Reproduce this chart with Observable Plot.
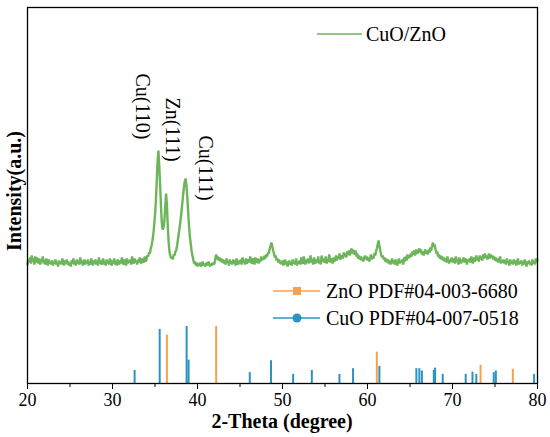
<!DOCTYPE html>
<html>
<head>
<meta charset="utf-8">
<script src="https://cdn.jsdelivr.net/npm/d3@7"></script>
<script src="https://cdn.jsdelivr.net/npm/@observablehq/plot@0.6"></script>
<style>
  html, body { margin: 0; padding: 0; background: #fff; }
  #chart { width: 550px; height: 437px; }
</style>
</head>
<body>
<div id="chart"></div>
<script>
// ---- Measured XRD pattern of CuO/ZnO (intensity above baseline, a.u.), sampled every 0.1 degree from 20 to 80
const patternStart = 20;
const patternStep = 0.1;
const patternRows = [
  "3 8 5 10 4 12 6 9 3 11",      // 20
  "5 10 7 4 9 3 8 6 11 4",       // 21
  "7 3 9 5 2 8 4 6 3 7",         // 22
  "2 6 4 8 3 5 1 7 4 6",         // 23
  "3 9 5 2 7 4 8 3 6 2",         // 24
  "5 1 7 4 9 3 6 2 8 4",         // 25
  "6 3 10 4 7 2 5 8 3 6",        // 26
  "4 8 2 6 3 9 5 2 7 4",         // 27
  "8 3 6 2 10 4 7 3 5 9",        // 28
  "3 6 2 8 4 7 3 9 5 2",         // 29
  "7 4 9 3 6 2 8 5 3 7",         // 30
  "4 10 5 3 8 6 2 9 4 7",        // 31
  "5 8 3 11 6 4 9 5 7 3",        // 32
  "8 5 10 6 4 9 7 5 11 6",       // 33
  "8 12 11 15 14 19 22 27 33 42",// 34
  "52 66 85 105 117 102 84 62 45 38", // 35
  "40 46 60 74 63 42 26 16 12 9",// 36
  "11 8 13 12 16 17 22 28 34 40",// 37
  "47 55 63 72 80 86 89 82 70 56",// 38
  "42 31 24 17 12 8 4 6 2 5",    // 39
  "1 4 2 5 1 3 6 2 4 1",         // 40
  "3 5 2 6 3 1 4 2 5 3",         // 41
  "4 9 13 8 11 7 10 6 9 5",      // 42
  "8 4 7 3 9 5 6 2 8 4",         // 43
  "6 3 8 4 7 2 9 5 3 7",         // 44
  "4 8 3 10 5 7 3 9 4 6",        // 45
  "8 5 11 6 4 9 7 3 10 6",       // 46
  "5 9 4 8 6 11 7 10 8 12",      // 47
  "9 13 11 15 14 19 22 25 21 17",// 48
  "14 10 12 7 9 5 8 4 6 3",      // 49
  "7 2 5 8 3 6 1 4 7 3",         // 50
  "5 2 8 4 6 3 9 2 5 4",         // 51
  "7 3 10 5 4 11 6 3 8 5",       // 52
  "9 4 7 12 5 8 3 10 6 4",       // 53
  "8 5 11 4 7 3 12 6 9 5",       // 54
  "7 11 4 8 6 13 5 9 7 4",       // 55
  "10 6 8 12 7 11 9 14 8 10",    // 56
  "12 9 15 11 14 10 16 13 17 12",// 57
  "16 19 14 18 15 13 17 11 14 9",// 58
  "12 8 11 7 10 6 9 12 8 11",    // 59
  "7 10 6 9 13 8 11 9 14 12",    // 60
  "16 19 23 27 22 17 13 10 12 8",// 61
  "10 6 9 5 8 4 7 3 6 9",        // 62
  "4 7 3 8 5 2 6 9 4 7",         // 63
  "5 8 3 10 6 11 7 13 9 12",     // 64
  "10 14 11 16 13 17 12 18 15 14",// 65
  "17 19 15 18 13 16 12 15 18 14",// 66
  "16 13 18 15 20 17 22 25 21 23",// 67
  "18 14 16 11 13 9 12 8 11 7",  // 68
  "10 6 9 5 11 7 4 8 6 10",      // 69
  "5 9 7 4 11 6 8 3 10 7",       // 70
  "4 8 6 10 5 9 7 3 8 6",        // 71
  "9 5 11 7 4 10 6 8 12 7",      // 72
  "10 6 12 8 11 7 13 9 14 10",   // 73
  "12 8 11 14 9 13 10 12 8 11",  // 74
  "7 10 6 9 5 8 11 4 7 5",       // 75
  "8 4 7 3 9 5 6 2 8 4",         // 76
  "6 3 8 4 7 2 5 9 3 6",         // 77
  "4 7 2 6 3 8 5 1 6 4",         // 78
  "7 3 5 2 8 4 6 3 9 5",         // 79
  "8"                            // 80
];

// ---- Reference patterns (relative intensity, %)
const cuoPos = [32.6, 35.55, 38.72, 38.95, 46.15, 48.65, 51.25, 53.45, 56.7, 58.3, 61.4, 65.75, 66.1, 66.4, 67.8, 67.95, 68.85, 71.55, 72.35, 72.8, 74.85, 75.1, 79.6];
const cuoRel = [23, 95, 100, 41, 19, 40, 16, 23, 16, 26, 30, 26, 26, 22, 23, 27, 16, 16, 20, 16, 19, 22, 16];
const znoPos = [36.4, 42.2, 61.1, 73.3, 77.1];
const znoRel = [85, 100, 55, 32, 25];

// ---- Peak annotations
const peakLabels = ["Cu(110)", "Zn(111)", "Cu(111)"];
const peakLabelX = [33.5, 37.05, 40.9];
const peakLabelY = [310, 286, 248];

// ---- Axis ticks and texts
const xMajorTicks = [20, 30, 40, 50, 60, 70, 80];
const xMinorTicks = [25, 35, 45, 55, 65, 75];
const xTitle = "2-Theta (degree)";
const yTitle = "Intensity(a.u.)";
const seriesNames = ["CuO/ZnO", "ZnO PDF#04-003-6680", "CuO PDF#04-007-0518"];

// ---- Layout / style
const patternOffset = 116;   // vertical offset of the measured pattern above the reference sticks
const stickScale = 0.57;     // height units per % relative intensity
const green = "#6cb55a", orange = "#f9a04c", blue = "#2b93c1";
const font = "'Liberation Serif', 'Times New Roman', serif";

const patternI = patternRows.flatMap(r => r.trim().split(/\s+/).map(Number));
const pattern = patternI.map((v, i) => ({x: +(patternStart + i * patternStep).toFixed(2), y: patternOffset + v}));
const cuo = cuoPos.map((p, i) => ({x: p, h: cuoRel[i] * stickScale}));
const zno = znoPos.map((p, i) => ({x: p, h: znoRel[i] * stickScale}));
const labels = peakLabels.map((t, i) => ({t, x: peakLabelX[i], y: peakLabelY[i]}));

const chart = Plot.plot({
  width: 550,
  height: 437,
  marginLeft: 27,
  marginRight: 13,
  marginTop: 7,
  marginBottom: 54,
  style: {fontFamily: font, background: "#fff", color: "#000", overflow: "visible"},
  x: {domain: [20, 80]},
  y: {domain: [0, 376], axis: null},
  marks: [
    Plot.ruleX(cuo, {x: "x", y1: 0, y2: "h", stroke: blue, strokeWidth: 2}),
    Plot.ruleX(zno, {x: "x", y1: 0, y2: "h", stroke: orange, strokeWidth: 2}),
    Plot.line(pattern, {x: "x", y: "y", stroke: green, strokeWidth: 2.4, strokeLinejoin: "miter"}),
    Plot.text(labels, {x: "x", y: "y", text: "t", rotate: 90, textAnchor: "start", fontSize: 20, fill: "#000", fontFamily: font}),
    Plot.axisX({ticks: xMinorTicks, tickSize: 4, tickFormat: () => "", label: null, stroke: "#000"}),
    Plot.axisX({ticks: xMajorTicks, tickSize: 6, tickPadding: 4, fontSize: 18, label: null, stroke: "#000", fill: "#000"}),
    Plot.frame({stroke: "#000", strokeWidth: 1.3})
  ]
});

document.getElementById("chart").appendChild(chart);

// titles and legends drawn on top of the plot svg
const svg = d3.select(chart);
svg.append("text")
  .attr("x", 282).attr("y", 428)
  .attr("text-anchor", "middle")
  .attr("font-family", font).attr("font-weight", "bold").attr("font-size", 20)
  .attr("fill", "#000")
  .text(xTitle);
svg.append("text")
  .attr("transform", "translate(21,191) rotate(-90)")
  .attr("text-anchor", "middle")
  .attr("font-family", font).attr("font-weight", "bold").attr("font-size", 20)
  .attr("fill", "#000")
  .text(yTitle);

// top legend
const lg = svg.append("g").attr("font-family", font).attr("font-size", 20).attr("fill", "#000").attr("text-anchor", "start");
lg.append("line").attr("x1", 317).attr("x2", 362).attr("y1", 34).attr("y2", 34).attr("stroke", green).attr("stroke-width", 1.5);
lg.append("text").attr("x", 366).attr("y", 34).attr("dy", "0.35em").text(seriesNames[0]);

// bottom legend
lg.append("line").attr("x1", 273).attr("x2", 320).attr("y1", 291).attr("y2", 291).attr("stroke", orange).attr("stroke-width", 1.5);
lg.append("rect").attr("x", 293).attr("y", 287).attr("width", 8).attr("height", 8).attr("fill", orange);
lg.append("text").attr("x", 326).attr("y", 291).attr("dy", "0.35em").text(seriesNames[1]);
lg.append("line").attr("x1", 273).attr("x2", 320).attr("y1", 318).attr("y2", 318).attr("stroke", blue).attr("stroke-width", 1.5);
lg.append("circle").attr("cx", 297).attr("cy", 318).attr("r", 4.5).attr("fill", blue);
lg.append("text").attr("x", 326).attr("y", 318).attr("dy", "0.35em").text(seriesNames[2]);
</script>
</body>
</html>
